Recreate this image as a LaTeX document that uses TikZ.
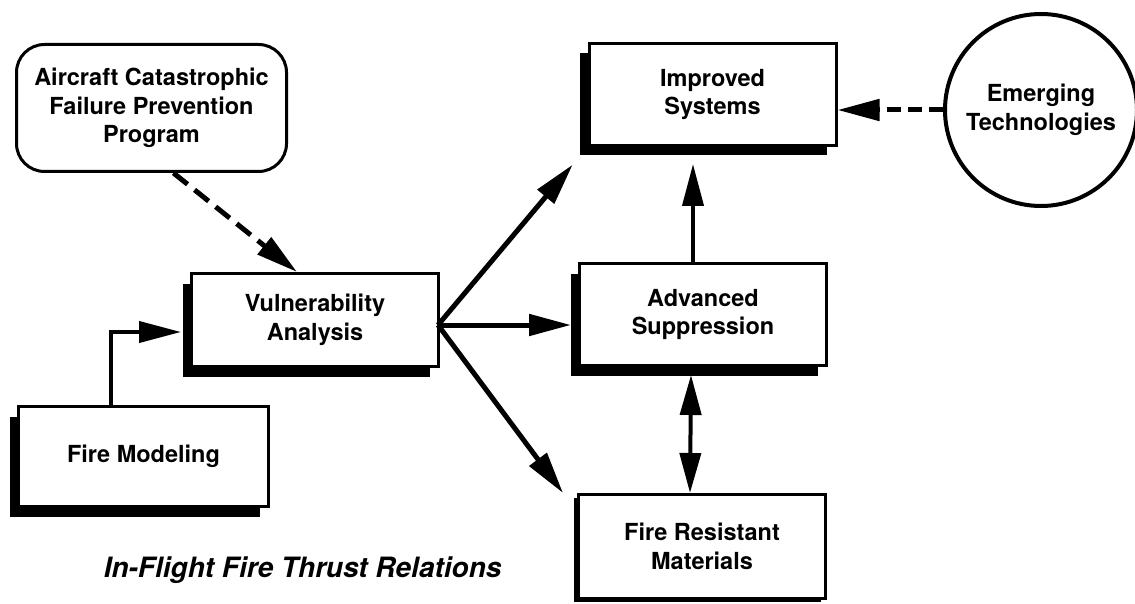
\documentclass[tikz,border=0pt]{standalone}
\usepackage{fontspec}
\setmainfont{TeX Gyre Heros}
\usetikzlibrary{arrows.meta,shadows}

\begin{document}
\begin{tikzpicture}
  [x=1pt,y=-1pt,
   box/.style={rectangle,draw,line width=3pt,fill=white,align=center,inner sep=0pt,
     font=\bfseries\fontsize{23.5}{28.5}\selectfont,minimum width=247pt},
   shbox/.style={box,drop shadow={shadow xshift=-9pt,shadow yshift=-10pt,opacity=1,fill=black}},
   arr/.style={line width=5pt,-{Triangle[length=42pt,width=21pt]}},
   darr/.style={arr,dash pattern=on 18pt off 9pt}]
  \useasboundingbox (0,0) rectangle (1135,604);

  \node[box,rounded corners=28pt,minimum width=270pt,minimum height=127pt] (acfp) at (151.5,108) {Aircraft Catastrophic\\Failure Prevention\\Program};
  \node[shbox,minimum height=93pt] (vul) at (315,320) {Vulnerability\\Analysis};
  \node[shbox,minimum width=250pt,minimum height=100pt] (fm) at (143.5,456.5) {Fire Modeling};
  \node[shbox,minimum height=102pt] (imp) at (712.5,94.5) {Improved\\Systems};
  \node[shbox,minimum height=102pt] (adv) at (703,314.5) {Advanced\\Suppression};
  \node[box,minimum height=104pt,drop shadow={shadow xshift=-5pt,shadow yshift=-3pt,opacity=1,fill=black}] (frm) at (702,546.5) {Fire Resistant\\Materials};
  \node[circle,draw,line width=4pt,fill=white,minimum size=192pt,align=center,
    font=\bfseries\fontsize{23.5}{28.5}\selectfont] (emt) at (1041,110) {Emerging\\Technologies};
  \node[anchor=east,font=\bfseries\itshape\fontsize{28}{34}\selectfont] (cap) at (505,570) {In-Flight Fire Thrust Relations};

  \coordinate (hub) at ([xshift=-2pt,yshift=-5pt]vul.east);

  \draw[darr] ([xshift=22pt]acfp.south) -- ([xshift=-18pt]vul.north);
  \draw[arr,line width=4pt] ([xshift=-33pt]fm.north) |- ([xshift=-9pt,yshift=-12pt]vul.west);
  \draw[arr,shorten >=23pt] (hub) -- (imp.south west);
  \draw[arr,shorten >=7pt] (hub) -- (hub -| adv.west);
  \draw[arr] (hub) -- ([xshift=-14pt]frm.north west);
  \draw[arr,line width=4pt,shorten >=17pt] ([xshift=-10pt]adv.north) -- ([xshift=-10pt]adv.north |- imp.south);
  \draw[arr,line width=4pt,{Triangle[length=40pt,width=21pt]}-{Triangle[length=40pt,width=21pt]}]
    ([xshift=-12pt,yshift=-8pt]adv.south) -- ([xshift=-12pt]frm.north);
  \draw[darr,dash pattern=on 14pt off 7pt] (emt.west) -- (emt.west -| imp.east);

\end{tikzpicture}
\end{document}
